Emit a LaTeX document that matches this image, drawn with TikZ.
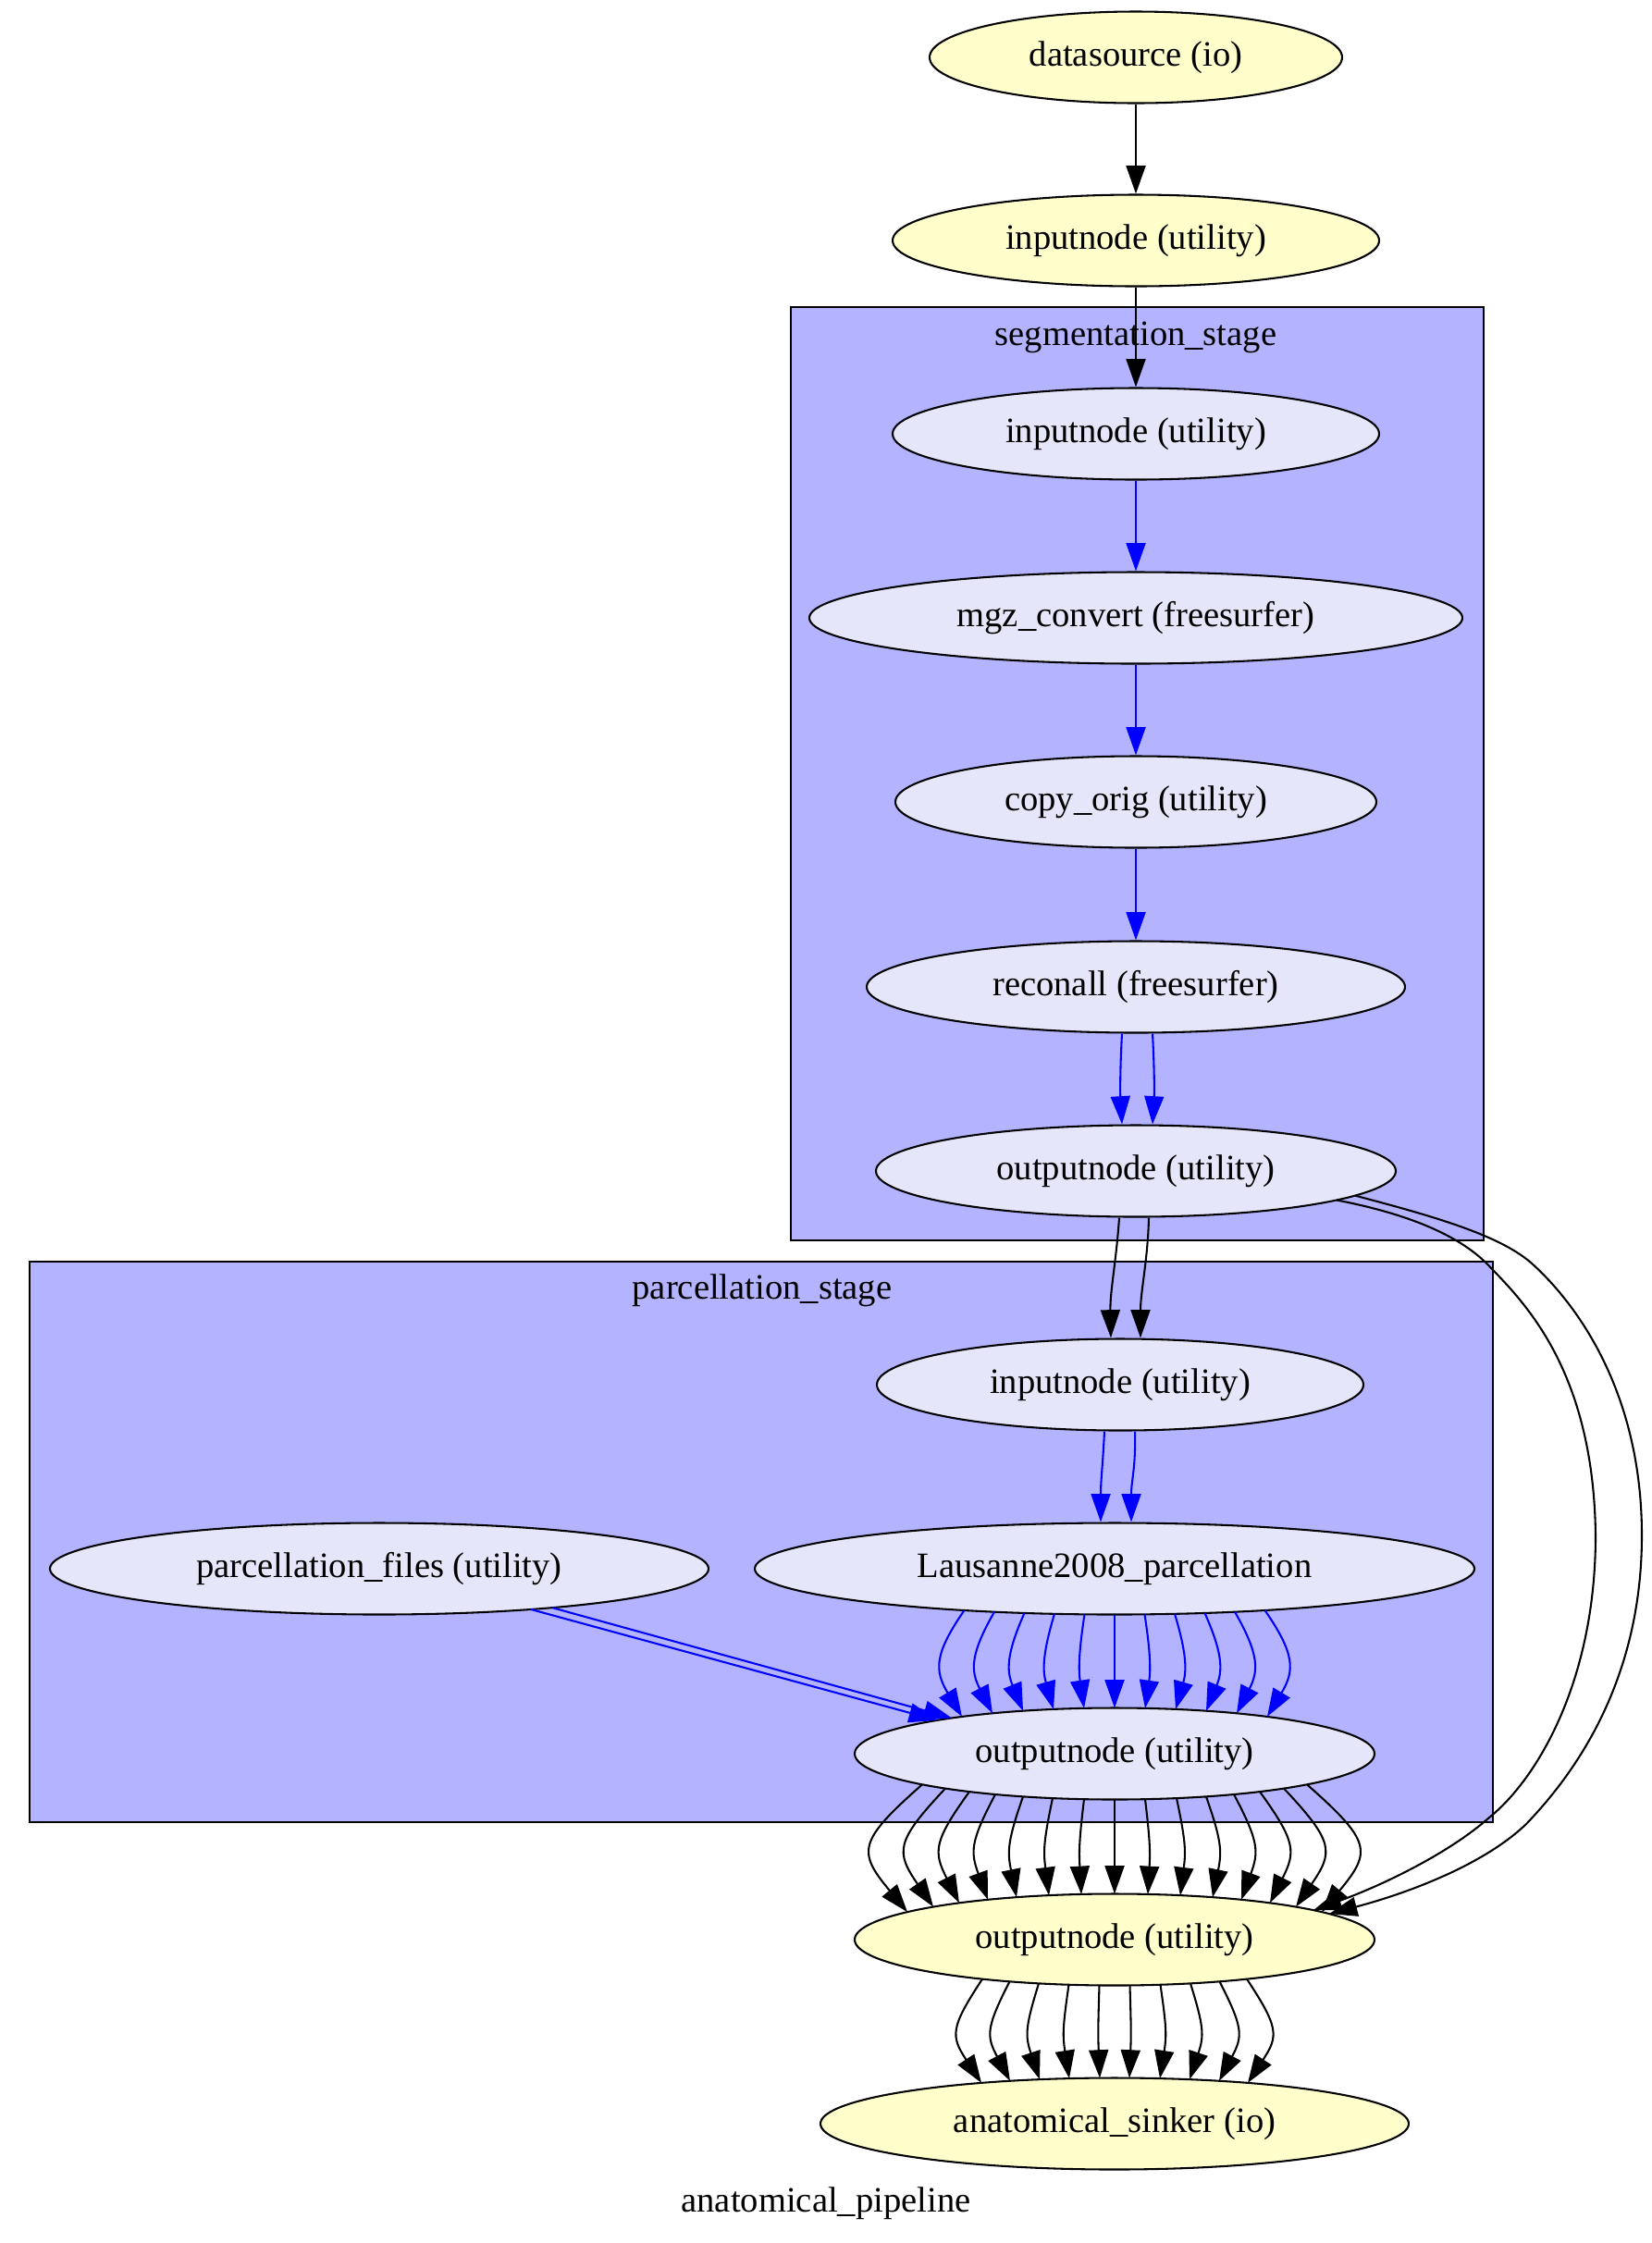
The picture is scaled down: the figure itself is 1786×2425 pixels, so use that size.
\documentclass[tikz,border=0pt]{standalone}
\usepackage{fontspec}
\setmainfont{Liberation Serif}
\usetikzlibrary{shapes.geometric,arrows.meta,calc}
\definecolor{clfill}{HTML}{B3B3FF}
\definecolor{nfill}{HTML}{E6E6FA}
\definecolor{yfill}{HTML}{FFFFCC}
\def\pxu{0.3628pt}
\begin{document}
\begin{tikzpicture}[x=0.3628pt, y=-0.3628pt, line width=0.75pt,
  font=\fontsize{14}{17}\selectfont,
  gvnode/.style={ellipse, draw=black, line width=0.75pt, inner sep=0pt, minimum height=99*\pxu},
  ynode/.style={gvnode, fill=yfill},
  cnode/.style={gvnode, fill=nfill},
  kedge/.style={draw=black, -{Triangle[length=11pt,width=7.6pt]}},
  bedge/.style={draw=blue, -{Triangle[length=11pt,width=7.6pt]}},
  clusterbox/.style={draw=black, fill=clfill, line width=0.75pt},
  lbl/.style={inner sep=0pt}]
\fill[white] (0,0) rectangle (1786,2425);
\useasboundingbox (0,0) rectangle (1786,2425);

% clusters
\draw[clusterbox] (855,332) rectangle (1604,1341);
\draw[clusterbox] (32,1364) rectangle (1614,1970);
\node[lbl] (seglabel) at (1228,365) {segmentation\_stage};
\node[lbl] (parclabel) at (824,1395) {parcellation\_stage};
\node[lbl] (glabel) at (893,2382) {anatomical\_pipeline};

% nodes
\node[ynode, minimum width=446*\pxu] (ds) at (1228,62) {datasource (io)};
\node[ynode, minimum width=526*\pxu] (in0) at (1228,260) {inputnode (utility)};
\node[cnode, minimum width=526*\pxu] (sin) at (1228,469) {inputnode (utility)};
\node[cnode, minimum width=706*\pxu] (mgz) at (1228,668) {mgz\_convert (freesurfer)};
\node[cnode, minimum width=520*\pxu] (copy) at (1228,867) {copy\_orig (utility)};
\node[cnode, minimum width=582*\pxu] (recon) at (1228,1067) {reconall (freesurfer)};
\node[cnode, minimum width=562*\pxu] (sout) at (1228,1266) {outputnode (utility)};
\node[cnode, minimum width=526*\pxu] (pin) at (1211,1497) {inputnode (utility)};
\node[cnode, minimum width=712*\pxu] (pfiles) at (410,1696) {parcellation\_files (utility)};
\node[cnode, minimum width=778*\pxu] (laus) at (1205,1696) {Lausanne2008\_parcellation};
\node[cnode, minimum width=562*\pxu] (pout) at (1205,1896) {outputnode (utility)};
\node[ynode, minimum width=562*\pxu] (out) at (1205,2097) {outputnode (utility)};
\node[ynode, minimum width=636*\pxu] (sink) at (1205,2296) {anatomical\_sinker (io)};

% simple chain
\draw[kedge] (ds.south) -- (in0.north);
\draw[kedge] (in0.south) -- (sin.north);
\draw[bedge] (sin.south) -- (mgz.north);
\draw[bedge] (mgz.south) -- (copy.north);
\draw[bedge] (copy.south) -- (recon.north);

% reconall -> seg outputnode (2)
\draw[bedge] ($(recon.south)+(-15,0)$) .. controls ($(recon.south)+(-17,35)$) and ($(sout.north)+(-17,-35)$) .. ($(sout.north)+(-15,0)$);
\draw[bedge] ($(recon.south)+(18,0)$) .. controls ($(recon.south)+(20,35)$) and ($(sout.north)+(20,-35)$) .. ($(sout.north)+(18,0)$);

% seg outputnode -> parc inputnode (2)
\draw[kedge] ($(sout.south)+(-18,0)$) .. controls ($(sout.south)+(-21,45)$) and ($(pin.north)+(-11,-50)$) .. ($(pin.north)+(-10,0)$);
\draw[kedge] ($(sout.south)+(14,0)$) .. controls ($(sout.south)+(13,45)$) and ($(pin.north)+(22,-50)$) .. ($(pin.north)+(22,0)$);

% parc inputnode -> Lausanne (2)
\draw[bedge] ($(pin.south)+(-17,0)$) .. controls ($(pin.south)+(-19,40)$) and ($(laus.north)+(-15,-45)$) .. ($(laus.north)+(-15,0)$);
\draw[bedge] ($(pin.south)+(16,0)$) .. controls ($(pin.south)+(17,40)$) and ($(laus.north)+(18,-45)$) .. ($(laus.north)+(18,0)$);

% parcellation_files -> parc outputnode (2)
\draw[bedge] ($(pfiles)+(164,{49.5*sqrt(1-(164/356)^2)})$) -- ($(pout)+(-192,{-49.5*sqrt(1-(192/281)^2)})$);
\draw[bedge] ($(pfiles)+(187,{49.5*sqrt(1-(187/356)^2)})$) -- ($(pout)+(-176,{-49.5*sqrt(1-(176/281)^2)})$);

% Lausanne -> parc outputnode (11)
\foreach \i in {-5,...,5} {
  \draw[bedge] ($(laus)+({32.5*(\i)},{49.5*sqrt(1-(32.5*(\i)/389)^2)})$)
    .. controls ($(laus)+({39*(\i)},92)$) and ($(pout)+({39*(\i)},-90)$)
    .. ($(pout)+({33*(\i)},{-49.5*sqrt(1-(33*(\i)/281)^2)})$);
}

% parc outputnode -> outputnode (15)
\foreach \s/\c/\e in {-208/-278/-224, -183/-237/-196, -157/-196/-168, -129/-156/-137, -99/-116/-106, -67/-77/-71, -33/-38.5/-36, 0/0/0, 33/38.5/36, 67/77/71, 99/116/106, 129/156/137, 157/196/168, 183/237/196, 208/278/224} {
  \draw[kedge] ($(pout)+({\s},{49.5*sqrt(1-((\s)/281)^2)})$)
    .. controls ($(pout)+({\c},95)$) and ($(out)+({\c},-95)$)
    .. ($(out)+({\e},{-49.5*sqrt(1-((\e)/281)^2)})$);
}

% seg outputnode -> outputnode (2, around the right)
\draw[kedge] ($(sout)+(217,{49.5*sqrt(1-(217/281)^2)})$)
  .. controls (1520,1312) and (1580,1335) .. (1613,1372)
  .. controls (1655,1415) and (1723,1490) .. (1725,1660)
  .. controls (1725,1820) and (1660,1925) .. (1610,1965)
  .. controls (1565,2005) and (1490,2040) .. ($(out)+(215,{-49.5*sqrt(1-(215/281)^2)})$);
\draw[kedge] ($(sout)+(237,{49.5*sqrt(1-(237/281)^2)})$)
  .. controls (1550,1315) and (1620,1335) .. (1655,1365)
  .. controls (1700,1405) and (1775,1500) .. (1775,1660)
  .. controls (1775,1820) and (1700,1920) .. (1650,1972)
  .. controls (1600,2020) and (1510,2050) .. ($(out)+(232,{-49.5*sqrt(1-(232/281)^2)})$);

% outputnode -> anatomical_sinker (10)
\foreach \s/\c/\e in {-143/-177.5/-144, -113.5/-138.9/-113, -82/-96.8/-81, -49.5/-56.25/-49, -16.5/-17.9/-16, 16.5/17.9/16, 49.5/56.25/49, 82/96.8/81, 113.5/138.9/113, 143/177.5/144} {
  \draw[kedge] ($(out)+({\s},{49.5*sqrt(1-((\s)/281)^2)})$)
    .. controls ($(out)+({\c},95)$) and ($(sink)+({\c},-95)$)
    .. ($(sink)+({\e},{-49.5*sqrt(1-((\e)/318)^2)})$);
}
\end{tikzpicture}
\end{document}
